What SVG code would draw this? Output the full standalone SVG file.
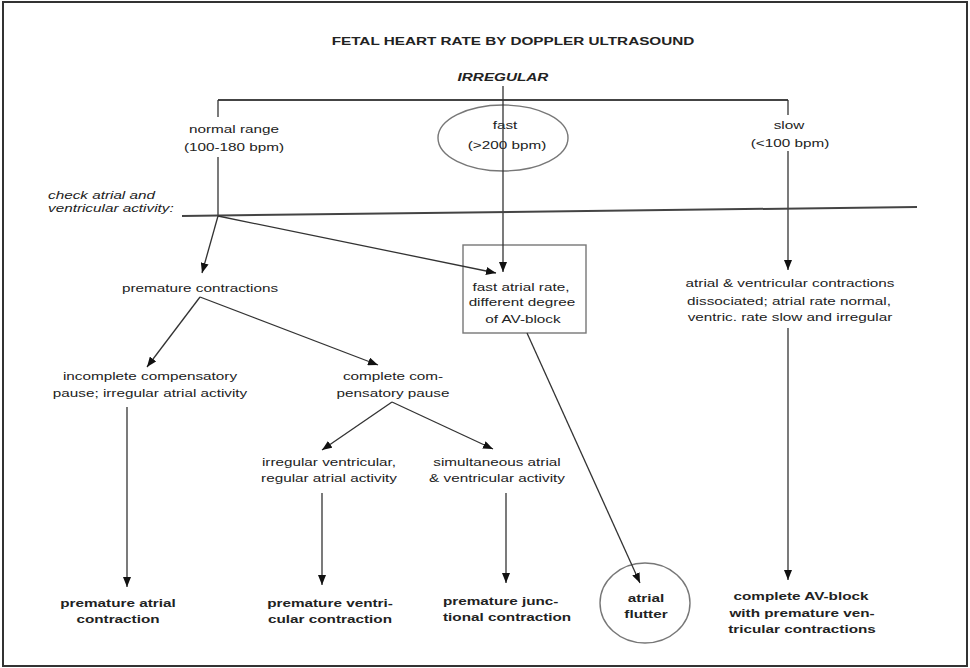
<svg xmlns="http://www.w3.org/2000/svg" width="970" height="668" viewBox="0 0 970 668">
<style>
text{font-family:"Liberation Sans",Arial,sans-serif;font-size:11.5px;fill:#222}
.b{font-weight:bold}
.bi{font-weight:bold;font-style:italic}
.i{font-style:italic}
.m{text-anchor:middle}
.s{text-anchor:start}
.ln{stroke:#333;stroke-width:1.3;fill:none}
.hb{stroke:#444;stroke-width:2;fill:none}
.shape{stroke:#777;stroke-width:1.4;fill:none}
</style>
<defs>
<marker id="ah" markerUnits="userSpaceOnUse" markerWidth="10" markerHeight="8" refX="10" refY="4" orient="auto">
<path d="M0,0 L10,4 L0,8 z" fill="#111"/>
</marker>
</defs>
<rect x="3" y="2" width="964" height="664" fill="#fff" stroke="#333" stroke-width="2"/>

<g id="title">
<text class="b m" transform="matrix(1.33,0,0,1,513,0)" y="45">FETAL HEART RATE BY DOPPLER ULTRASOUND</text>
</g>
<g id="irregular">
<text class="bi m" transform="matrix(1.33,0,0,1,503,0)" y="81">IRREGULAR</text>
</g>
<g id="normal">
<text class="m" transform="matrix(1.33,0,0,1,234,0)" y="133">normal range</text>
<text class="m" transform="matrix(1.33,0,0,1,234,0)" y="151">(100-180 bpm)</text>
</g>
<g id="fast">
<ellipse class="shape" cx="503" cy="138" rx="65" ry="33"/>
<text class="m" transform="matrix(1.33,0,0,1,505,0)" y="129">fast</text>
<text class="m" transform="matrix(1.33,0,0,1,507,0)" y="149">(&gt;200 bpm)</text>
</g>
<g id="slow">
<text class="m" transform="matrix(1.33,0,0,1,789,0)" y="129">slow</text>
<text class="m" transform="matrix(1.33,0,0,1,790,0)" y="147">(&lt;100 bpm)</text>
</g>
<g id="check">
<text class="i s" transform="matrix(1.33,0,0,1,48,0)" y="199">check atrial and</text>
<text class="i s" transform="matrix(1.33,0,0,1,48,0)" y="212">ventricular activity:</text>
</g>
<g id="premature">
<text class="m" transform="matrix(1.33,0,0,1,200,0)" y="292">premature contractions</text>
</g>
<g id="fastatrial">
<rect class="shape" x="463" y="245" width="123" height="88"/>
<text class="m" transform="matrix(1.33,0,0,1,521,0)" y="291">fast atrial rate,</text>
<text class="m" transform="matrix(1.33,0,0,1,522,0)" y="306">different degree</text>
<text class="m" transform="matrix(1.33,0,0,1,523,0)" y="323">of AV-block</text>
</g>
<g id="dissociated">
<text class="m" transform="matrix(1.33,0,0,1,790,0)" y="287">atrial &amp; ventricular contractions</text>
<text class="m" transform="matrix(1.33,0,0,1,789,0)" y="305">dissociated; atrial rate normal,</text>
<text class="m" transform="matrix(1.33,0,0,1,790,0)" y="321">ventric. rate slow and irregular</text>
</g>
<g id="incomplete">
<text class="m" transform="matrix(1.33,0,0,1,150,0)" y="380">incomplete compensatory</text>
<text class="m" transform="matrix(1.33,0,0,1,150,0)" y="397">pause; irregular atrial activity</text>
</g>
<g id="complete">
<text class="m" transform="matrix(1.33,0,0,1,393,0)" y="380">complete com-</text>
<text class="m" transform="matrix(1.33,0,0,1,393,0)" y="397">pensatory pause</text>
</g>
<g id="irregventr">
<text class="m" transform="matrix(1.33,0,0,1,329,0)" y="466">irregular ventricular,</text>
<text class="m" transform="matrix(1.33,0,0,1,329,0)" y="482">regular atrial activity</text>
</g>
<g id="simultaneous">
<text class="m" transform="matrix(1.33,0,0,1,497,0)" y="466">simultaneous atrial</text>
<text class="m" transform="matrix(1.33,0,0,1,497,0)" y="482">&amp; ventricular activity</text>
</g>
<g id="pac">
<text class="b m" transform="matrix(1.33,0,0,1,118,0)" y="607">premature atrial</text>
<text class="b m" transform="matrix(1.33,0,0,1,118,0)" y="623">contraction</text>
</g>
<g id="pvc">
<text class="b m" transform="matrix(1.33,0,0,1,330,0)" y="607">premature ventri-</text>
<text class="b m" transform="matrix(1.33,0,0,1,330,0)" y="623">cular contraction</text>
</g>
<g id="pjc">
<text class="b s" transform="matrix(1.33,0,0,1,443,0)" y="605">premature junc-</text>
<text class="b s" transform="matrix(1.33,0,0,1,443,0)" y="621">tional contraction</text>
</g>
<g id="flutter">
<ellipse class="shape" cx="645" cy="603" rx="45" ry="40"/>
<text class="b m" transform="matrix(1.33,0,0,1,646,0)" y="602">atrial</text>
<text class="b m" transform="matrix(1.33,0,0,1,646,0)" y="618">flutter</text>
</g>
<g id="avblock">
<text class="b m" transform="matrix(1.33,0,0,1,801,0)" y="600">complete AV-block</text>
<text class="b m" transform="matrix(1.33,0,0,1,802,0)" y="617">with premature ven-</text>
<text class="b m" transform="matrix(1.33,0,0,1,802,0)" y="633">tricular contractions</text>
</g>

<g id="connectors">
<line class="hb" x1="218" y1="100" x2="788" y2="100"/>
<line class="ln" x1="503" y1="86" x2="503" y2="272" marker-end="url(#ah)"/>
<line class="ln" x1="218" y1="100" x2="218" y2="117"/>
<line class="ln" x1="218" y1="157" x2="218" y2="216"/>
<line class="ln" x1="788" y1="100" x2="788" y2="115"/>
<line class="ln" x1="788" y1="151" x2="788" y2="270" marker-end="url(#ah)"/>
<line class="hb" x1="182" y1="216" x2="917" y2="207"/>
<line class="ln" x1="218" y1="216" x2="202" y2="273" marker-end="url(#ah)"/>
<line class="ln" x1="218" y1="216" x2="496" y2="273" marker-end="url(#ah)"/>
<line class="ln" x1="200" y1="297" x2="147" y2="367" marker-end="url(#ah)"/>
<line class="ln" x1="200" y1="297" x2="378" y2="365" marker-end="url(#ah)"/>
<line class="ln" x1="127" y1="407" x2="127" y2="587" marker-end="url(#ah)"/>
<line class="ln" x1="392" y1="402" x2="322" y2="450" marker-end="url(#ah)"/>
<line class="ln" x1="392" y1="402" x2="493" y2="449" marker-end="url(#ah)"/>
<line class="ln" x1="322" y1="493" x2="322" y2="585" marker-end="url(#ah)"/>
<line class="ln" x1="506" y1="493" x2="506" y2="583" marker-end="url(#ah)"/>
<line class="ln" x1="527" y1="333" x2="640" y2="583" marker-end="url(#ah)"/>
<line class="ln" x1="788" y1="328" x2="788" y2="580" marker-end="url(#ah)"/>
</g>
</svg>
